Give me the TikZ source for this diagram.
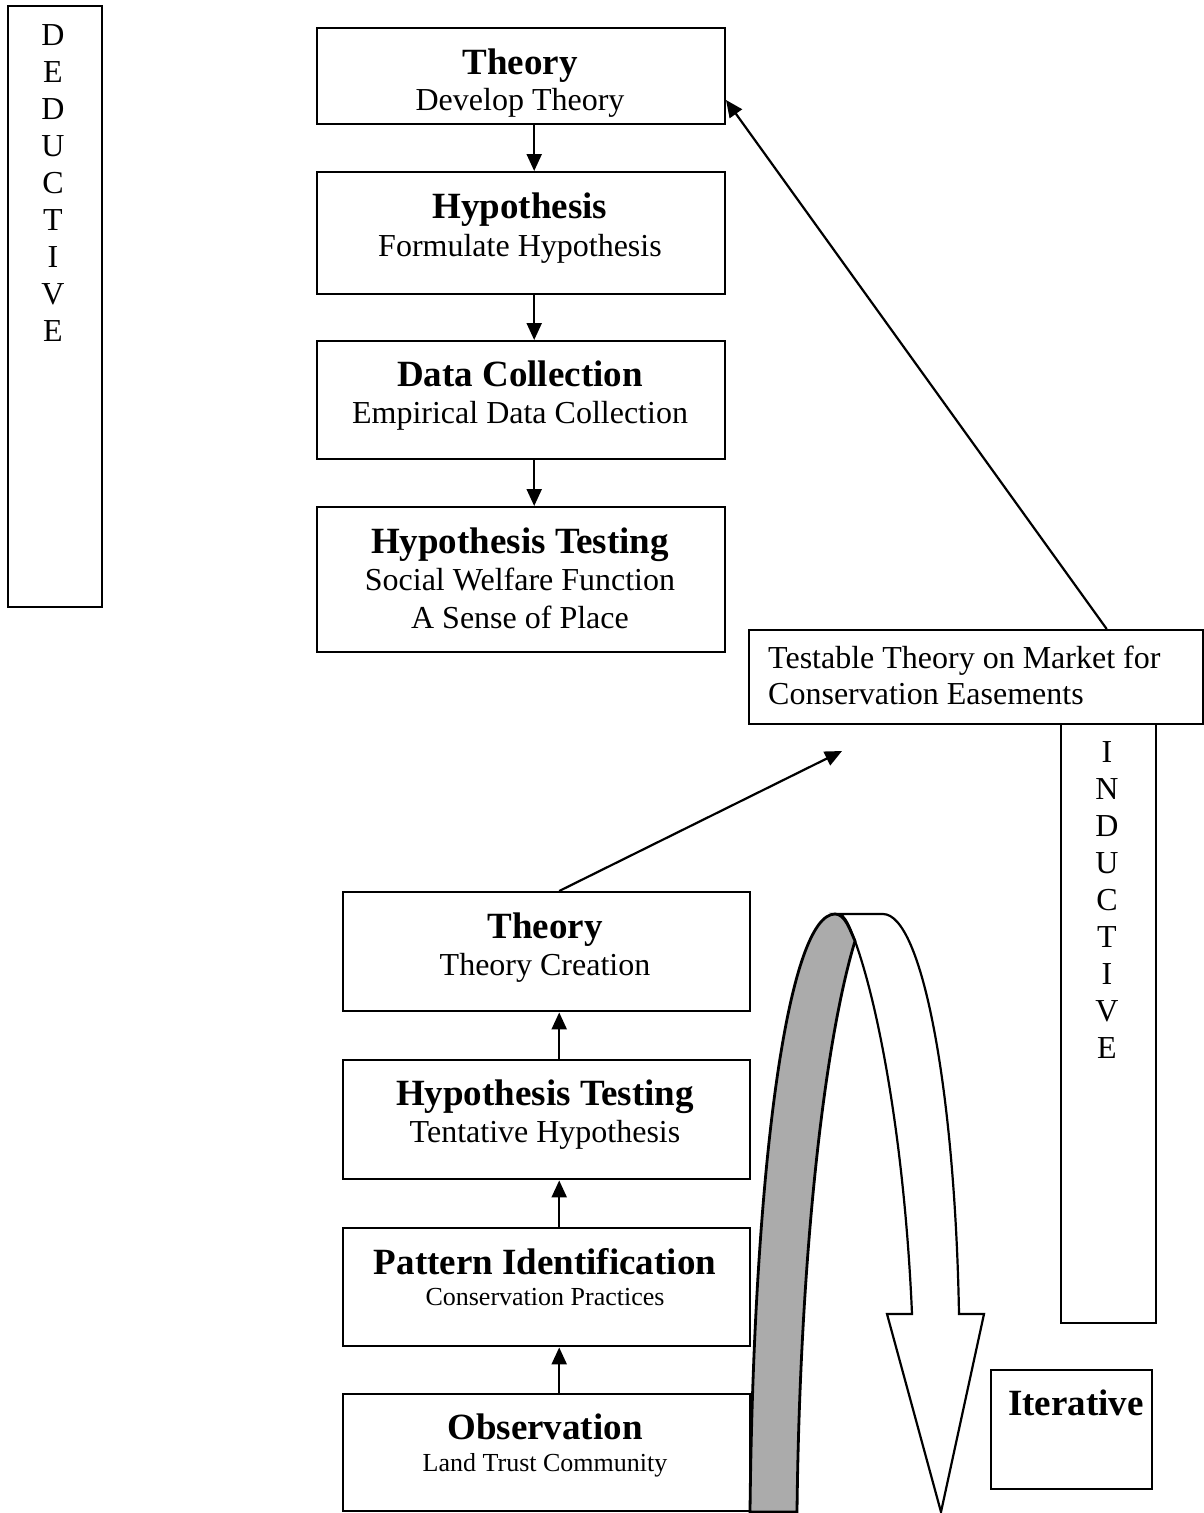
\documentclass[tikz,border=0pt]{standalone}
\usepackage{fontspec}
\setmainfont{Liberation Serif}
\usetikzlibrary{arrows.meta}
\begin{document}
\begin{tikzpicture}[x=1pt,y=-1pt,
  box/.style={draw, line width=2.4pt, fill=white, inner sep=0pt, anchor=north west},
  ttl/.style={font=\fontsize{37}{40}\selectfont\bfseries, anchor=base, inner sep=0pt},
  sub/.style={font=\fontsize{32}{36}\selectfont, anchor=base, inner sep=0pt},
  small/.style={font=\fontsize{26}{30}\selectfont, anchor=base, inner sep=0pt},
  letters/.style={font=\fontsize{32}{37}\selectfont, align=center, inner sep=0pt, anchor=north},
  arr/.style={line width=2.2pt, -{Triangle[length=17pt,width=15pt]}},
  ribbon/.style={line width=2.2pt, fill=white, line join=miter},
  backside/.style={line width=2.8pt, fill=black!33}
]
\useasboundingbox (0,0) rectangle (1204,1513);

% Deductive
\node[box, minimum width=94pt, minimum height=601pt] (ded) at (7,5) {};
\node[letters] (dedl) at (53,24) {D\\E\\D\\U\\C\\T\\I\\V\\E};

% Deductive column
\node[box, minimum width=408pt, minimum height=96pt] (t1) at (316,27) {};
\node[ttl] (t1a) at (520,74) {Theory};
\node[sub] (t1b) at (520,110) {Develop Theory};

\node[box, minimum width=408pt, minimum height=122pt] (h1) at (316,171) {};
\node[ttl] (h1a) at (520,218) {Hypothesis};
\node[sub] (h1b) at (520,256) {Formulate Hypothesis};

\node[box, minimum width=408pt, minimum height=118pt] (dc) at (316,340) {};
\node[ttl] (dca) at (520,386) {Data Collection};
\node[sub] (dcb) at (520,423) {Empirical Data Collection};

\node[box, minimum width=408pt, minimum height=145pt] (ht) at (316,506) {};
\node[ttl] (hta) at (520,553) {Hypothesis Testing};
\node[sub] (htb) at (520,590) {Social Welfare Function};
\node[sub] (htc) at (520,628) {A Sense of Place};

\draw[arr] ([xshift=13pt]t1.south) -- ([xshift=13pt]h1.north);
\draw[arr] ([xshift=13pt]h1.south) -- ([xshift=13pt]dc.north);
\draw[arr] ([xshift=13pt]dc.south) -- ([xshift=13pt]ht.north);

% Inductive
\node[box, minimum width=95pt, minimum height=599pt] (ind) at (1060,723) {};
\node[letters] (indl) at (1107,741) {I\\N\\D\\U\\C\\T\\I\\V\\E};

\node[box, minimum width=454pt, minimum height=94pt] (tt) at (748,629) {};
\node[sub, anchor=base west] (tta) at (768,668) {Testable Theory on Market for};
\node[sub, anchor=base west] (ttb) at (768,704) {Conservation Easements};

\coordinate (t1in) at (726,100);
\draw[arr] ([xshift=-2pt]tt.north -| ind.north) -- (t1in);

% Inductive column
\node[box, minimum width=407pt, minimum height=119pt] (lt) at (342,891) {};
\node[ttl] (lta) at (545,938) {Theory};
\node[sub] (ltb) at (545,975) {Theory Creation};

\node[box, minimum width=407pt, minimum height=119pt] (lh) at (342,1059) {};
\node[ttl] (lha) at (545,1105) {Hypothesis Testing};
\node[sub] (lhb) at (545,1142) {Tentative Hypothesis};

\node[box, minimum width=407pt, minimum height=118pt] (pi) at (342,1227) {};
\node[ttl] (pia) at (545,1274) {Pattern Identification};
\node[small] (pib) at (545,1305) {Conservation Practices};

\node[box, minimum width=407pt, minimum height=117pt] (ob) at (342,1393) {};
\node[ttl] (oba) at (545,1439) {Observation};
\node[small] (obb) at (545,1471) {Land Trust Community};

\draw[arr] ([xshift=12.5pt]lh.north) -- ([xshift=12.5pt]lt.south);
\draw[arr] ([xshift=12.5pt]pi.north) -- ([xshift=12.5pt]lh.south);
\draw[arr] ([xshift=12.5pt]ob.north) -- ([xshift=12.5pt]pi.south);

\coordinate (free) at (842,751);
\draw[arr] ([xshift=12.5pt]lt.north) -- (free);

% Iterative
\node[box, minimum width=161pt, minimum height=119pt] (it) at (990,1369) {};
\node[ttl] (ita) at (1076,1415) {Iterative};

% Curved ribbon arrow
\draw[ribbon] (838,914) -- (883,914) .. controls (922,914) and (955,1090) .. (959,1314)
  -- (984,1314) -- (941,1512) -- (887,1314) -- (912,1314)
  .. controls (905,1150) and (880,1010) .. (855,941)
  .. controls (850,928) and (845,914) .. (838,914) -- cycle;
\draw[backside] (750,1512) .. controls (754,1150) and (790,914) .. (835,914)
  .. controls (845,914) and (850,930) .. (855,941)
  .. controls (825,1040) and (800,1250) .. (797,1512) -- cycle;
\end{tikzpicture}
\end{document}
